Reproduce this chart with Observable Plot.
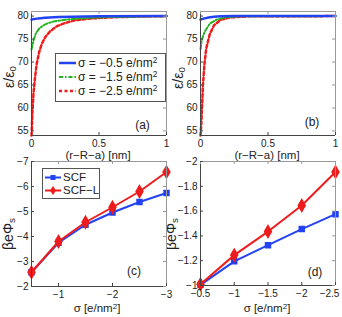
<!DOCTYPE html>
<html><head><meta charset="utf-8">
<script src="https://cdn.jsdelivr.net/npm/d3@7"></script>
<script src="https://cdn.jsdelivr.net/npm/@observablehq/plot@0.6"></script>
<style>
body{margin:0;background:#fff;font-family:"Liberation Sans",Arial,sans-serif;}
#fig{position:relative;width:342px;height:317px;overflow:hidden;background:#fff}
.p{position:absolute}
.lab{position:absolute;color:#222;white-space:nowrap;line-height:1;transform:translate(-50%,-50%)}
.xl{font-size:11.5px}
.yl{font-size:14px;transform:translate(-50%,-50%) rotate(-90deg)}
.tag{font-size:12px}
sub{font-size:0.7em;vertical-align:-0.25em}
sup{font-size:0.7em;vertical-align:0.45em;line-height:0}
.leg{position:absolute;background:#fff;border:1px solid #555;box-sizing:border-box}
.row{position:absolute;left:0;height:14px;display:flex;align-items:center;font-size:12px;color:#222;white-space:nowrap;line-height:1}
.row svg{flex:none}
</style></head>
<body>
<div id="fig"></div>
<script>
// ---------- data ----------
// panel (a): epsilon/epsilon0 vs (r-R-a)
const aX_05 = [0, 0.05, 0.1, 0.2, 0.3, 0.5, 1];
const aY_05 = [79.25, 79.5, 79.65, 79.8, 79.88, 79.95, 80];
const aX_15 = [0, 0.015, 0.032, 0.057, 0.089, 0.126, 0.175, 0.249, 0.323, 0.45, 0.6, 0.8, 1];
const aY_15 = [72.7, 74.7, 76.2, 77.3, 78.0, 78.5, 78.9, 79.2, 79.4, 79.65, 79.8, 79.9, 80];
const aX_25 = [0, 0.0025, 0.0074, 0.0148, 0.027, 0.039, 0.057, 0.077, 0.101, 0.138, 0.188, 0.249, 0.323, 0.45, 0.6, 0.8, 1];
const aY_25 = [54, 55.2, 59.6, 63.2, 66.8, 69.7, 72.2, 74.0, 75.4, 76.7, 77.8, 78.5, 79.1, 79.5, 79.75, 79.9, 80];
// panel (b)
const bX_05 = [0, 0.03, 0.06, 0.1, 0.15, 0.25, 1];
const bY_05 = [79.25, 79.5, 79.7, 79.85, 79.95, 80, 80];
const bX_15 = [0, 0.008, 0.02, 0.035, 0.07, 0.125, 0.2, 0.3, 1];
const bY_15 = [72.8, 74.5, 75.8, 76.8, 78.4, 79.3, 79.8, 79.95, 80];
const bX_25 = [0, 0.005, 0.012, 0.018, 0.03, 0.043, 0.068, 0.1, 0.15, 0.22, 0.35, 1];
const bY_25 = [54, 56, 60.5, 65, 69.8, 73, 76, 78, 79.2, 79.7, 79.95, 80];
// panel (c)
const sigmaC = [-0.5, -1, -1.5, -2, -2.5, -3];
const scfC = [-2.57, -3.75, -4.47, -4.96, -5.38, -5.74];
const scflC = [-2.57, -3.8, -4.57, -5.17, -5.8, -6.58];
// panel (d)
const sigmaD = [-0.5, -1, -1.5, -2, -2.5];
const scfD = [-1.005, -1.195, -1.325, -1.455, -1.575];
const scflD = [-1.01, -1.245, -1.435, -1.645, -1.915];
// ticks
const epsTicks = [55, 60, 65, 70, 75, 80];
const distTicks = [0, 0.5, 1];
const cXTicks = [-1, -2, -3];
const cYTicks = [-7, -6, -5, -4, -3, -2];
const dXTicks = [-0.5, -1, -1.5, -2, -2.5];
const dYTicks = [-2, -1.8, -1.6, -1.4, -1.2, -1];
const legendA = ["σ = −0.5 e/nm", "σ = −1.5 e/nm", "σ = −2.5 e/nm"];
const legendC = ["SCF", "SCF−L"];

const BLUE = "#2343f2", GREEN = "#22b322", RED = "#ee1c1c";
const FONT = '"Liberation Sans", Arial, sans-serif';
const minusFmt = d => (d < 0 ? "\u2212" : "") + Math.abs(d);
const pts = (xs, ys) => xs.map((x, i) => ({x, y: ys[i]}));

function panel({w, h, ml, mr, mt, mb, xDomain, yDomain, xTicks, yTicks, xFmt, yFmt, marks, lastDx = 0}) {
  const fw = w - ml - mr, fh = h - mt - mb;
  const xLab = lastDx ? xTicks.slice(0, -1) : xTicks;
  const extra = lastDx ? [Plot.axisX(xTicks.slice(-1), {tickSize: 0, tickPadding: 4, label: null, tickFormat: xFmt, dx: lastDx})] : [];
  return Plot.plot({
    width: w, height: h, marginLeft: ml, marginRight: mr, marginTop: mt, marginBottom: mb,
    style: {fontFamily: FONT, fontSize: "10px", color: "#222", background: "none", overflow: "visible"},
    x: {domain: xDomain},
    y: {domain: yDomain},
    marks: [
      ...marks,
      Plot.ruleX([xDomain[1]], {stroke: "#999", strokeWidth: 1}),
      Plot.ruleY([yDomain[1]], {stroke: "#999", strokeWidth: 1}),
      Plot.ruleX([xDomain[0]], {stroke: "#444", strokeWidth: 1}),
      Plot.ruleY([yDomain[0]], {stroke: "#444", strokeWidth: 1}),
      Plot.tickX(xTicks, {x: d => d, insetTop: fh - 3, stroke: "#444"}),
      Plot.tickX(xTicks, {x: d => d, insetBottom: fh - 3, stroke: "#999"}),
      Plot.tickY(yTicks, {y: d => d, insetRight: fw - 3, stroke: "#444"}),
      Plot.tickY(yTicks, {y: d => d, insetLeft: fw - 3, stroke: "#999"}),
      Plot.axisX(xLab, {tickSize: 0, tickPadding: 4, label: null, tickFormat: xFmt}),
      ...extra,
      Plot.axisY(yTicks, {tickSize: 0, tickPadding: 3, label: null, tickFormat: yFmt})
    ]
  });
}

function epsMarks(x05, y05, x15, y15, x25, y25) {
  return [
    Plot.line(pts(x25, y25), {x: "x", y: "y", stroke: RED, strokeWidth: 2.5, strokeDasharray: "3 2.5"}),
    Plot.line(pts(x15, y15), {x: "x", y: "y", stroke: GREEN, strokeWidth: 2, strokeDasharray: "4 2 1.5 2"}),
    Plot.line(pts(x05, y05), {x: "x", y: "y", stroke: BLUE, strokeWidth: 2.5})
  ];
}
function potMarks(xs, scf, scfl) {
  const a = pts(xs, scf), b = pts(xs, scfl);
  return [
    Plot.line(a, {x: "x", y: "y", stroke: BLUE, strokeWidth: 2}),
    Plot.dot(a, {x: "x", y: "y", symbol: "square", fill: BLUE, stroke: BLUE, r: 2.8}),
    Plot.line(b, {x: "x", y: "y", stroke: RED, strokeWidth: 2}),
    Plot.dot(b, {x: "x", y: "y", symbol: "diamond", fill: RED, stroke: RED, r: 3.6})
  ];
}

const fig = document.getElementById("fig");
function place(node, left, top) {
  node.classList.add("p"); node.style.left = left + "px"; node.style.top = top + "px";
  fig.appendChild(node);
}
function label(html, cx, cy, cls) {
  const d = document.createElement("div");
  d.className = "lab " + cls; d.innerHTML = html;
  d.style.left = cx + "px"; d.style.top = cy + "px";
  fig.appendChild(d); return d;
}

const numFmt = d => String(d);
place(panel({w: 171, h: 158, ml: 31, mr: 5, mt: 11, mb: 23, xDomain: [0, 1], yDomain: [54, 81],
  xTicks: distTicks, yTicks: epsTicks, xFmt: numFmt, yFmt: numFmt,
  marks: epsMarks(aX_05, aY_05, aX_15, aY_15, aX_25, aY_25)}), 0, 0);
place(panel({w: 171, h: 158, ml: 29, mr: 7, mt: 11, mb: 23, xDomain: [0, 1], yDomain: [54, 81],
  xTicks: distTicks, yTicks: epsTicks, xFmt: numFmt, yFmt: numFmt,
  marks: epsMarks(bX_05, bY_05, bX_15, bY_15, bX_25, bY_25)}), 171, 0);
place(panel({w: 171, h: 160, ml: 31, mr: 5, mt: 11, mb: 24, xDomain: [-0.5, -3], yDomain: [-2, -7],
  xTicks: cXTicks, yTicks: cYTicks, xFmt: minusFmt, yFmt: minusFmt,
  marks: potMarks(sigmaC, scfC, scflC)}), 0, 150);
place(panel({w: 171, h: 160, ml: 29, mr: 7, mt: 11, mb: 25, xDomain: [-0.5, -2.5], yDomain: [-1, -2],
  xTicks: dXTicks, yTicks: dYTicks, xFmt: minusFmt, yFmt: minusFmt, lastDx: -6,
  marks: potMarks(sigmaD, scfD, scflD)}), 171, 150);

// axis labels
label("(r\u2212R\u2212a) [nm]", 98, 156, "xl");
label("(r\u2212R\u2212a) [nm]", 267, 156, "xl");
label("σ [e/nm<sup>2</sup>]", 97, 309, "xl");
label("σ [e/nm<sup>2</sup>]", 267, 309, "xl");
label("ε/ε<sub>0</sub>", 10, 77, "yl");
label("ε/ε<sub>0</sub>", 179, 78, "yl");
label("βeΦ<sub>s</sub>", 9, 234, "yl");
// (d) y label, partially hidden by panel (c)
const clip = document.createElement("div");
clip.style.cssText = "position:absolute;left:167px;top:190px;width:20px;height:80px;overflow:hidden";
fig.appendChild(clip);
const dl = document.createElement("div");
dl.className = "lab yl"; dl.innerHTML = "βeΦ<sub>s</sub>";
dl.style.left = "5px"; dl.style.top = "44px";
clip.appendChild(dl);
// panel tags
label("(a)", 142.5, 125, "tag");
label("(b)", 312, 122, "tag");
label("(c)", 134, 271, "tag");
label("(d)", 315, 272, "tag");

// legend (a)
const la = document.createElement("div");
la.className = "leg";
la.style.cssText += "left:55px;top:53px;width:111px;height:49px";
const aStyles = [[BLUE, 2.5, "none"], [GREEN, 2, "4 2 1.5 2"], [RED, 2.5, "3 2.5"]];
legendA.forEach((t, i) => {
  const r = document.createElement("div");
  r.className = "row"; r.style.top = (2 + i * 14) + "px";
  const [c, sw, da] = aStyles[i];
  r.innerHTML = `<svg width="22" height="14"><line x1="3" x2="20" y1="7" y2="7" stroke="${c}" stroke-width="${sw}" stroke-dasharray="${da}"/></svg><span>${t}<sup>2</sup></span>`;
  la.appendChild(r);
});
fig.appendChild(la);

// legend (c)
const lc = document.createElement("div");
lc.className = "leg";
lc.style.cssText += "left:42px;top:168px;width:58px;height:31px";
const cMarkers = [
  [BLUE, `<rect x="7.5" y="3" width="5" height="5" fill="${BLUE}"/>`],
  [RED, `<path d="M10,1 L13,5.5 L10,10 L7,5.5 Z" fill="${RED}"/>`]
];
legendC.forEach((t, i) => {
  const r = document.createElement("div");
  r.className = "row"; r.style.top = (3 + i * 13) + "px"; r.style.height = "11px"; r.style.fontSize = "11.5px";
  const [c, m] = cMarkers[i];
  r.innerHTML = `<svg width="20" height="11"><line x1="2" x2="18" y1="5.5" y2="5.5" stroke="${c}" stroke-width="2"/>${m}</svg><span>${t}</span>`;
  lc.appendChild(r);
});
fig.appendChild(lc);
</script>
</body></html>
